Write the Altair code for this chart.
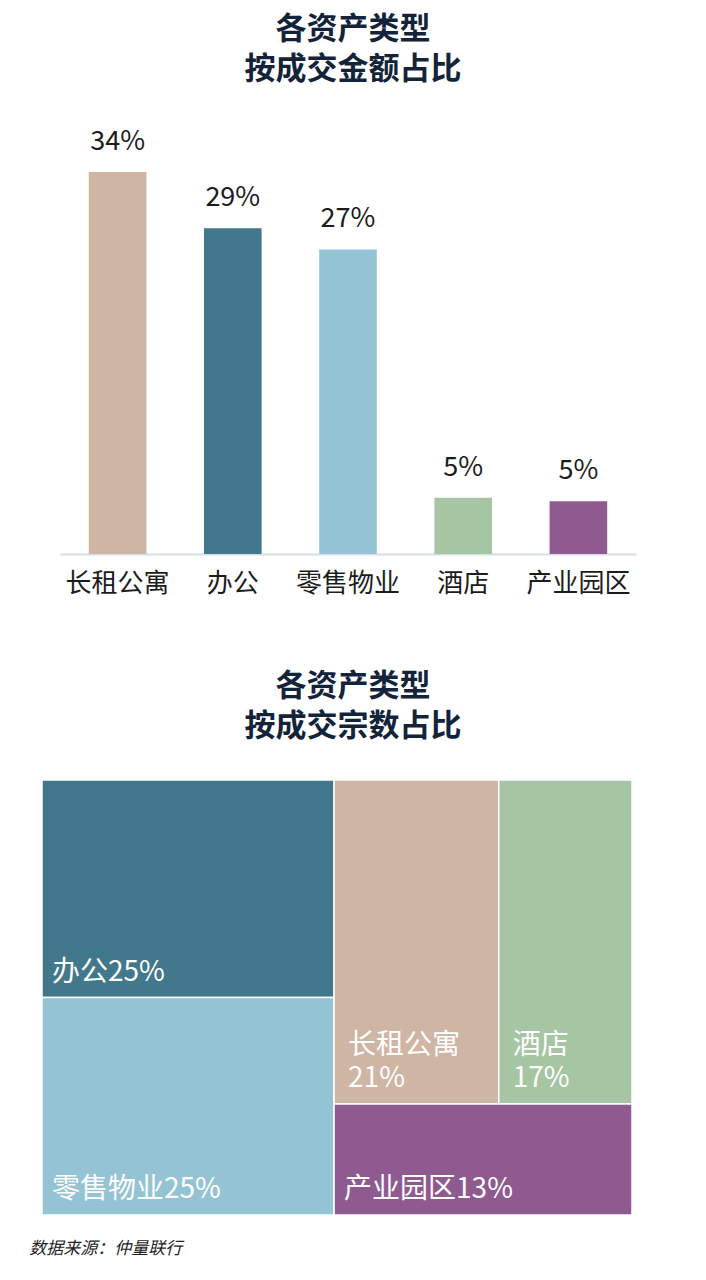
import altair as alt
import pandas as pd

FONT = "Noto Sans CJK SC"

# ---- data ----
categories = ["长租公寓", "办公", "零售物业", "酒店", "产业园区"]
colors = ["#cfb5a4", "#41788c", "#94c4d3", "#a5c5a3", "#8e5a90"]

amount_share = [34.0, 29.0, 27.1, 5.0, 4.7]
amount_labels = ["34%", "29%", "27%", "5%", "5%"]

count_share = [21, 25, 25, 17, 13]
count_labels = ["长租公寓\n21%", "办公25%", "零售物业25%", "酒店\n17%", "产业园区13%"]
tree_groups = [["办公", "零售物业"], [["长租公寓", "酒店"], ["产业园区"]]]

TREE_W, TREE_H = 590, 435

# ---- treemap layout (slice-and-dice, alternating direction) ----
val = dict(zip(categories, count_share))


def total(node):
    return val[node] if isinstance(node, str) else sum(total(n) for n in node)


def layout(node, x0, y0, x1, y1, depth, out):
    if isinstance(node, str):
        out.append(dict(cat=node, x0=x0, y0=y0, x1=x1, y1=y1))
        return
    s = total(node)
    horizontal = depth % 2 == 0
    pos = x0 if horizontal else y0
    for child in node:
        frac = total(child) / s
        if horizontal:
            nxt = pos + frac * (x1 - x0)
            layout(child, pos, y0, nxt, y1, depth + 1, out)
        else:
            nxt = pos + frac * (y1 - y0)
            layout(child, x0, pos, x1, nxt, depth + 1, out)
        pos = nxt


cells = []
layout(tree_groups, 0, 0, TREE_W, TREE_H, 0, cells)
tree_df = pd.DataFrame(cells)
tree_df["label"] = tree_df["cat"].map(dict(zip(categories, count_labels)))
tree_df["nlines"] = tree_df["label"].str.count("\n") + 1

color_scale = alt.Scale(domain=categories, range=colors)

# ---- bar chart ----
bar_df = pd.DataFrame({"cat": categories, "v": amount_share, "label": amount_labels})

xenc = alt.X(
    "cat:N", sort=categories,
    scale=alt.Scale(paddingInner=0.5, paddingOuter=0.25, range=[18, 594]),
    axis=alt.Axis(title=None, labelAngle=0, domainColor="#d3dfe9", domainWidth=2,
                  ticks=False, labelFontSize=26, labelPadding=16, labelColor="#1c1c1c",
                  labelFont=FONT),
)
yenc = alt.Y(
    "v:Q", scale=alt.Scale(domain=[0, 38], nice=False),
    axis=None,
)
base = alt.Chart(bar_df).encode(x=xenc, y=yenc)
bars = base.mark_bar().encode(color=alt.Color("cat:N", scale=color_scale, legend=None))
bar_text = base.mark_text(baseline="alphabetic", dy=-22, fontSize=27, font=FONT,
                          color="#1c1c1c").encode(text="label:N")

bar_chart = (bars + bar_text).properties(
    width=594, height=427,
    title=alt.TitleParams(["各资产类型", "按成交金额占比"], fontSize=31, fontWeight="bold",
                          color="#13243a", font=FONT, lineHeight=40, offset=41,
                          anchor="middle", dx=14),
)

# ---- treemap ----
tbase = alt.Chart(tree_df)
rects = tbase.mark_rect(stroke="white", strokeWidth=1.5).encode(
    x=alt.X("x0:Q", scale=alt.Scale(domain=[0, TREE_W], nice=False, zero=False), axis=None),
    x2="x1:Q",
    y=alt.Y("y0:Q", scale=alt.Scale(domain=[0, TREE_H], reverse=True, nice=False, zero=False),
            axis=None),
    y2="y1:Q",
    color=alt.Color("cat:N", scale=color_scale, legend=None),
)
label_style = dict(align="left", baseline="bottom", fontSize=28, font=FONT, color="white",
                   lineBreak="\n", lineHeight=33)
tlabels1 = tbase.transform_filter("datum.nlines == 1").mark_text(
    dx=10, dy=-11, **label_style).encode(x="x0:Q", y="y1:Q", text="label:N")
tlabels2 = tbase.transform_filter("datum.nlines == 2").mark_text(
    dx=14, dy=-44, **label_style).encode(x="x0:Q", y="y1:Q", text="label:N")

tree_chart = (rects + tlabels1 + tlabels2).properties(
    width=TREE_W, height=TREE_H,
    title=alt.TitleParams(["各资产类型", "按成交宗数占比"], fontSize=31, fontWeight="bold",
                          color="#13243a", font=FONT, lineHeight=40, offset=36,
                          anchor="middle", dx=16),
)

chart = alt.vconcat(bar_chart, tree_chart, spacing=75).properties(
    padding={"left": 21, "top": 6, "right": 10, "bottom": 10},
    title=alt.TitleParams("数据来源：仲量联行", orient="bottom", anchor="start",
                          fontSize=17, fontWeight="normal", fontStyle="italic",
                          font=FONT, color="#222222", dx=-12, offset=25),
).configure(font=FONT, background="white").configure_view(stroke=None)

chart.save("out.html", embed_options={"renderer": "svg", "actions": False})
